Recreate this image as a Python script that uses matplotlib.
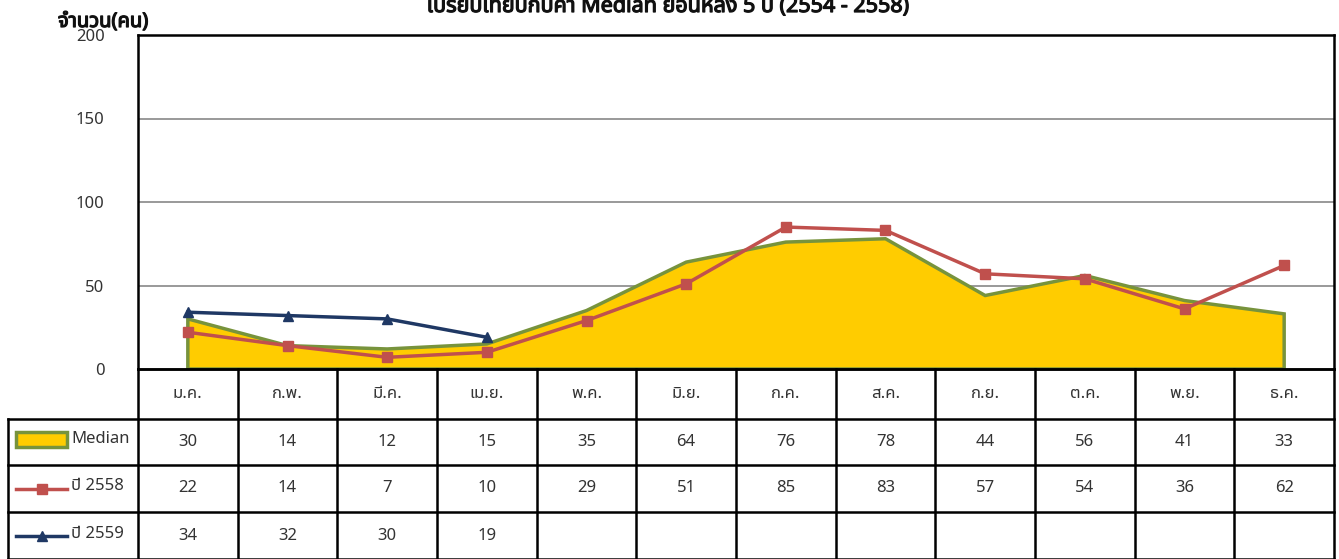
import matplotlib.pyplot as plt
import matplotlib.patheffects as pe
from matplotlib.patches import Rectangle

plt.rcParams['font.family'] = ['Noto Sans Thai', 'Noto Sans', 'DejaVu Sans']

# data
months = ['ม.ค.', 'ก.พ.', 'มี.ค.', 'เม.ย.', 'พ.ค.', 'มิ.ย.', 'ก.ค.', 'ส.ค.', 'ก.ย.', 'ต.ค.', 'พ.ย.', 'ธ.ค.']
median = [30, 14, 12, 15, 35, 64, 76, 78, 44, 56, 41, 33]
y2558 = [22, 14, 7, 10, 29, 51, 85, 83, 57, 54, 36, 62]
y2559 = [34, 32, 30, 19]
yticks = [0, 50, 100, 150, 200]

W, H = 1339, 559
fig = plt.figure(figsize=(W / 100, H / 100), dpi=100)
txt = '#333333'
fs = 12

# plot area in pixels
px0, px1, py0, py1 = 138, 1334, 35, 369
ax = fig.add_axes([px0 / W, (H - py1) / H, (px1 - px0) / W, (py1 - py0) / H])

xs = [i + 0.5 for i in range(len(months))]
ax.fill([xs[0]] + xs + [xs[-1]], [0] + median + [0], facecolor='#FFCC00',
        edgecolor='#77933C', lw=2.5, zorder=2)
ax.plot(xs, y2558, color='#C0504D', lw=2.5, marker='s', ms=7, zorder=3)
ax.plot(xs[:len(y2559)], y2559, color='#1F3864', lw=2.5, marker='^', ms=7, zorder=4)

ax.set_xlim(0, 12)
ax.set_ylim(0, 200)
ax.set_xticks([])
ax.set_yticks(yticks)
ax.set_yticklabels([str(v) for v in yticks], fontsize=fs, color=txt)
ax.tick_params(axis='y', length=0, pad=24)
for v in yticks[1:-1]:
    ax.axhline(v, color='#888888', lw=1.2, zorder=1)
for s in ax.spines.values():
    s.set_linewidth(1.8)
    s.set_color('black')

# table
tb = fig.add_axes([0, 0, 1, 1], facecolor='none')
tb.set_xlim(0, W)
tb.set_ylim(H, 0)
tb.axis('off')
col_w = (px1 - px0) / 12
rows = [369, 419, 465, 512, 559]
lc = dict(color='black', lw=1.8)
for r in rows[1:]:
    tb.plot([8, px1], [r, r], **lc)
tb.plot([px0, px1], [rows[0], rows[0]], **lc)
for i in range(13):
    x = px0 + i * col_w
    tb.plot([x, x], [rows[0], H], **lc)
tb.plot([8, 8], [rows[1], H], **lc)

for i, m in enumerate(months):
    cx = px0 + (i + 0.5) * col_w
    tb.text(cx, (rows[0] + rows[1]) / 2, m, ha='center', va='center', fontsize=fs, color=txt)
    tb.text(cx, (rows[1] + rows[2]) / 2, str(median[i]), ha='center', va='center', fontsize=fs, color=txt)
    tb.text(cx, (rows[2] + rows[3]) / 2, str(y2558[i]), ha='center', va='center', fontsize=fs, color=txt)
    if i < len(y2559):
        tb.text(cx, (rows[3] + rows[4]) / 2, str(y2559[i]), ha='center', va='center', fontsize=fs, color=txt)

# legend inside table
tb.add_patch(Rectangle((16, 432), 51, 15, facecolor='#FFCC00', edgecolor='#77933C', lw=2.5))
tb.text(71, 439, 'Median', ha='left', va='center', fontsize=fs, color=txt)
ym = (rows[2] + rows[3]) / 2
tb.plot([16, 67], [ym, ym], color='#C0504D', lw=2.5)
tb.plot([42], [ym], color='#C0504D', marker='s', ms=7)
tb.text(71, ym - 2, 'ปี 2558', ha='left', va='center', fontsize=fs, color=txt)
ym = (rows[3] + rows[4]) / 2
tb.plot([16, 67], [ym, ym], color='#1F3864', lw=2.5)
tb.plot([42], [ym], color='#1F3864', marker='^', ms=7)
tb.text(71, ym - 2, 'ปี 2559', ha='left', va='center', fontsize=fs, color=txt)

# titles (faux bold via stroke)
bold = [pe.withStroke(linewidth=0.9, foreground='#111111')]
tb.text(668, 6, 'เปรียบเทียบกับค่า Median ย้อนหลัง 5 ปี (2554 - 2558)', ha='center', va='center',
        fontsize=15.5, color='#111111', path_effects=bold)
tb.text(58, 22, 'จำนวน(คน)', ha='left', va='center', fontsize=14.5, color='#111111', path_effects=bold)

fig.savefig('out.png', dpi=100)
